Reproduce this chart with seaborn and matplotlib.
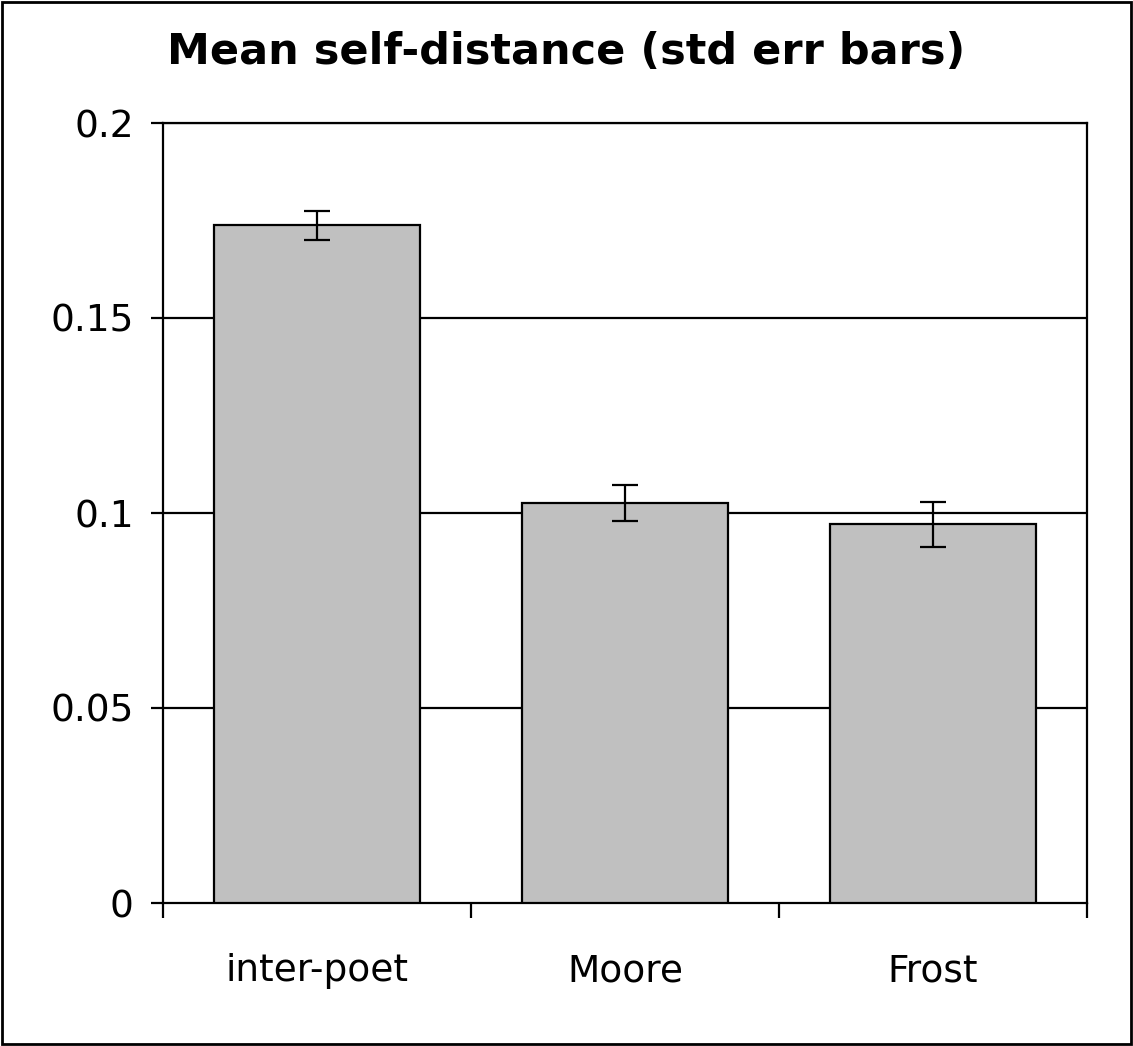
import numpy as np
import pandas as pd
import matplotlib
matplotlib.use("Agg")
import matplotlib.pyplot as plt
import seaborn as sns
from matplotlib.patches import Rectangle

# data
groups = ["inter-poet", "Moore", "Frost"]
mean_dist = [0.1738, 0.1025, 0.0971]
std_err = [0.0037, 0.0046, 0.0058]
y_ticks = [0, 0.05, 0.1, 0.15, 0.2]
y_labels = ["0", "0.05", "0.1", "0.15", "0.2"]

df = pd.DataFrame({"group": groups, "mean": mean_dist, "se": std_err})

sns.set_theme(style="white")
plt.rcParams["font.family"] = ["DejaVu Sans"]
plt.rcParams["text.color"] = "black"
plt.rcParams["xtick.color"] = "black"
plt.rcParams["ytick.color"] = "black"

fig = plt.figure(figsize=(11.33, 10.46), dpi=100)
ax = fig.add_axes([163 / 1133, 1 - 903 / 1046, (1087 - 163) / 1133, (903 - 123) / 1046])

sns.barplot(data=df, x="group", y="mean", color="#c0c0c0", saturation=1,
            width=0.667, edgecolor="black", linewidth=1.6, ax=ax, zorder=3)
ax.errorbar(np.arange(len(groups)), df["mean"], yerr=df["se"], fmt="none",
            ecolor="black", elinewidth=1.6, capsize=9.5, capthick=1.6, zorder=4)

ax.set_xlim(-0.5, 2.5)
ax.set_ylim(0, 0.2)
ax.set_yticks(y_ticks)
ax.set_yticklabels(y_labels)
for y in y_ticks[1:]:
    ax.axhline(y, color="black", lw=1.6, zorder=1)

ax.set_xticks(range(len(groups)))
ax.set_xticklabels(groups)
ax.set_xticks([-0.5, 0.5, 1.5, 2.5], minor=True)
ax.tick_params(axis="x", which="major", length=0, pad=36, labelsize=27)
ax.tick_params(axis="x", which="minor", length=11, width=1.6, direction="out",
               color="black", bottom=True)
ax.tick_params(axis="y", length=9, width=1.6, direction="out", color="black",
               left=True, labelsize=27, pad=12)
ax.set_xlabel("")
ax.set_ylabel("")
for s in ax.spines.values():
    s.set_color("black")
    s.set_linewidth(1.6)

fig.text(0.5, 1 - 52 / 1046, "Mean self-distance (std err bars)", ha="center",
         va="center", fontsize=31, fontweight="bold")

fig.patches.append(Rectangle((0.002, 0.002), 0.996, 0.996, transform=fig.transFigure,
                             fill=False, edgecolor="black", linewidth=2))

fig.savefig("out.png", dpi=100)
